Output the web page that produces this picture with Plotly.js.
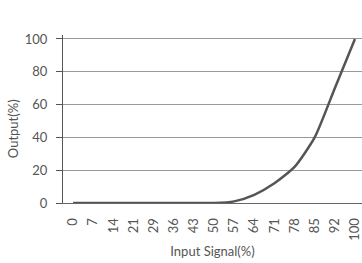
<!DOCTYPE html>
<html><head><meta charset="utf-8">
<script src="https://cdn.plot.ly/plotly-3.0.1.min.js"></script>
<style>html,body{margin:0;padding:0;background:#fff}#c{width:362px;height:263px}</style>
</head><body><div id="c"></div>
<script>
const categories = ["0","7","14","21","29","36","43","50","57","64","71","78","85","92","100"];
const output = [0,0,0,0,0,0,0,0,1,5,12,22,40,70,100];
const yTicks = [0,20,40,60,80,100];

Plotly.newPlot('c', [{
  x: categories, y: output, type: 'scatter', mode: 'lines',
  line: {color: '#555555', width: 2.5, shape: 'spline', smoothing: 0.6},
  hoverinfo: 'none'
}], {
  width: 362, height: 263,
  margin: {l: 63, r: 0, t: 35, b: 60},
  paper_bgcolor: '#fff', plot_bgcolor: '#fff',
  font: {family: 'Lato, sans-serif', color: '#555', size: 13},
  showlegend: false,
  xaxis: {
    type: 'category', range: [-0.5, 14.35],
    showgrid: false, zeroline: false,
    showline: true, linecolor: '#666', linewidth: 1,
    ticks: '', tickangle: -90, tickfont: {size: 13, color: '#555'},
    ticklabelstandoff: 9,
    title: {text: 'Input Signal(%)', font: {size: 13, color: '#555'}, standoff: 7}
  },
  yaxis: {
    range: [0, 102.4], tickvals: yTicks,
    showgrid: true, gridcolor: '#999', gridwidth: 1,
    zeroline: false, showline: true, linecolor: '#555', linewidth: 1,
    ticks: 'outside', ticklen: 6, tickcolor: '#555',
    tickfont: {size: 13, color: '#555'},
    ticklabelstandoff: 6
  },
  annotations: [{
    text: 'Output(%)', xref: 'paper', yref: 'paper',
    x: -0.167, y: 0.44, xanchor: 'center', yanchor: 'middle',
    textangle: -90, showarrow: false, font: {size: 13, color: '#555'}
  }]
}, {staticPlot: true});
</script></body></html>
